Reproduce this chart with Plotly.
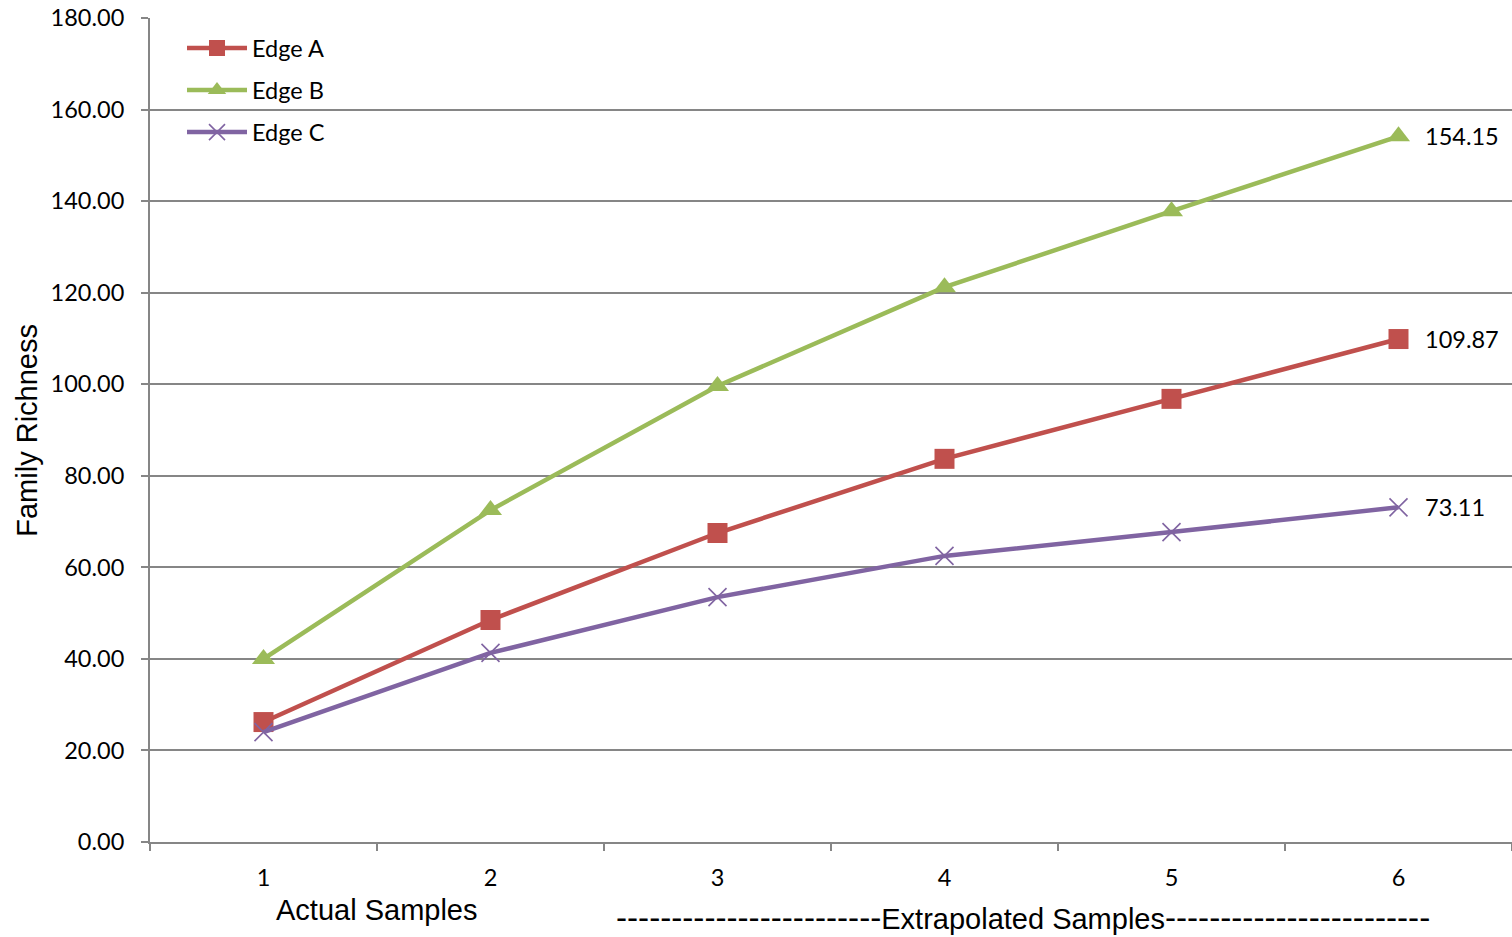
import plotly.graph_objects as go

samples = [1, 2, 3, 4, 5, 6]
edge_a = [26.2, 48.5, 67.5, 83.7, 96.8, 109.87]
edge_b = [40.0, 72.5, 99.6, 121.2, 137.8, 154.15]
edge_c = [24.0, 41.3, 53.5, 62.5, 67.7, 73.11]
series_names = ["Edge A", "Edge B", "Edge C"]
y_ticks = [0, 20, 40, 60, 80, 100, 120, 140, 160, 180]

colors = ["#C0504D", "#9BBB59", "#8064A2"]
symbols = ["square", "triangle-up", "x-thin"]
sizes = [20, 20, 18]
CAL = "Lato, Open Sans, sans-serif"
ARI = "Liberation Sans, Arial, sans-serif"

fig = go.Figure()
for name, vals, col, sym, sz in zip(series_names, [edge_a, edge_b, edge_c], colors, symbols, sizes):
    marker = dict(symbol=sym, size=sz, color=col)
    if sym == "x-thin":
        marker["line"] = dict(color=col, width=1.6)
    fig.add_trace(go.Scatter(
        x=samples, y=vals, name=name, mode="lines+markers",
        legendgroup=name,
        line=dict(color=col, width=4.5),
        marker=marker,
        cliponaxis=False,
    ))
    fig.add_annotation(x=samples[-1], y=vals[-1], text=f"{vals[-1]:.2f}",
                       xref="x", yref="y", xanchor="left", yanchor="middle",
                       xshift=24, showarrow=False,
                       font=dict(family=CAL, size=23.5, color="#000000"))

fig.update_layout(
    width=1512, height=937,
    margin=dict(l=150, r=0, t=18, b=95),
    plot_bgcolor="white", paper_bgcolor="white",
    showlegend=True,
    legend=dict(x=0.0235, y=0.99, xanchor="left", yanchor="top",
                font=dict(family=CAL, size=23.5, color="#000000"),
                bgcolor="rgba(0,0,0,0)", itemwidth=60, tracegroupgap=8.5,
                traceorder="grouped"),
    font=dict(family=CAL, size=23.5, color="#000000"),
)
fig.update_xaxes(
    range=[0.5, 6.5], tickvals=samples, ticktext=[str(s) for s in samples],
    ticks="", showgrid=False, zeroline=False,
    showline=True, linecolor="#868686", linewidth=2,
    tickfont=dict(family=CAL, size=23.5),
    ticklabelstandoff=14,
    minor=dict(tickvals=[0.5, 1.5, 2.5, 3.5, 4.5, 5.5, 6.5], ticks="outside",
               ticklen=7, tickcolor="#868686", tickwidth=2, showgrid=False),
)
fig.update_yaxes(
    range=[0, 180], tickvals=y_ticks, ticktext=[f"{v:.2f}" for v in y_ticks],
    ticks="outside", ticklen=7, tickcolor="#868686", tickwidth=2,
    showgrid=True, gridcolor="#868686", gridwidth=1.6,
    zeroline=False, showline=True, linecolor="#868686", linewidth=2,
    tickfont=dict(family=CAL, size=23.5),
    ticklabelstandoff=12,
)
fig.add_annotation(text="Family Richness", xref="paper", yref="paper",
                   x=-0.0905, y=0.5, textangle=-90, showarrow=False,
                   xanchor="center", yanchor="middle",
                   font=dict(family=ARI, size=29, color="#000000"))
fig.add_annotation(text="Actual Samples", xref="x", yref="paper",
                   x=1.5, y=-0.083, yanchor="middle", showarrow=False,
                   font=dict(family=ARI, size=29, color="#000000"))
dashes = "<span style='font-size:33.2px'>" + "-" * 24 + "</span>"
fig.add_annotation(text=dashes + "Extrapolated Samples" + dashes,
                   xref="paper", yref="paper",
                   x=(1023 - 150) / 1362, y=-0.092, yanchor="middle", showarrow=False,
                   font=dict(family=ARI, size=29, color="#000000"))

fig.write_html("out.html", config={"displayModeBar": False},
               post_script="document.body.style.margin='0';document.body.style.overflow='hidden';")
